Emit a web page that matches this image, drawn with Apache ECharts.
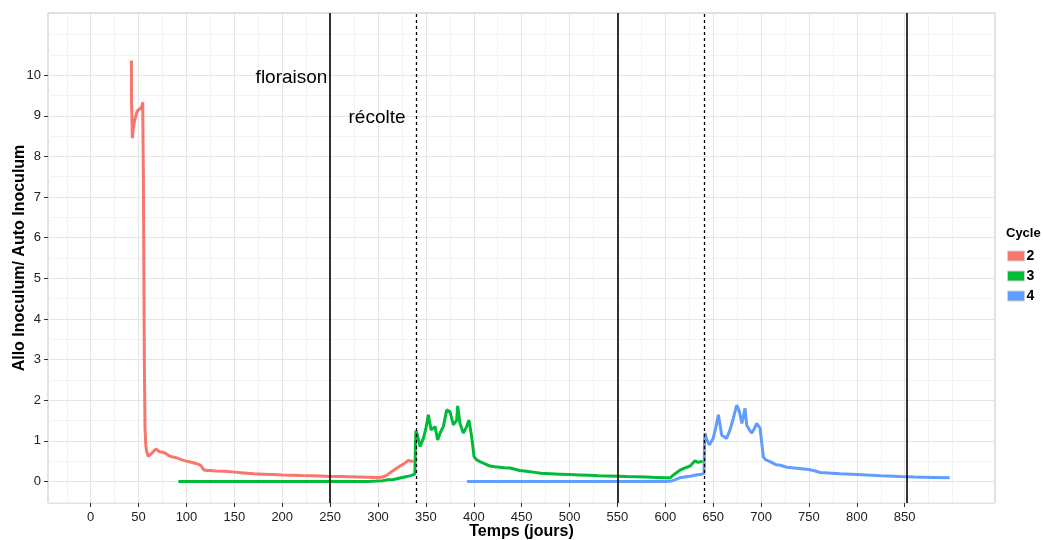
<!DOCTYPE html>
<html>
<head>
<meta charset="utf-8">
<script src="https://cdn.jsdelivr.net/npm/echarts@6/dist/echarts.min.js"></script>
<style>html,body{margin:0;padding:0;background:#fff}#c{width:1043px;height:540px}</style>
</head>
<body>
<div id="c"></div>
<script>
// ---- tick labels / grid breaks ----
var xTicks = [0,50,100,150,200,250,300,350,400,450,500,550,600,650,700,750,800,850];
var xMinor = [-25,25,75,125,175,225,275,325,375,425,475,525,575,625,675,725,775,825,875,900];
var yTicks = [0,1,2,3,4,5,6,7,8,9,10];
var yMinor = [-0.5,0.5,1.5,2.5,3.5,4.5,5.5,6.5,7.5,8.5,9.5,10.5,11];

// ---- reference lines ----
var solidLines = [250, 550, 852];
var dashedLines = [340, 641];

// ---- annotations ----
var annotations = [
  {name: 'floraison', x: 209.7, y: 9.93},
  {name: 'récolte', x: 299, y: 8.96}
];

// ---- series ----
var cycleNames = ['2', '3', '4'];
var cycle2 = [[42.5,10.36],[42.6,9.4],[43.5,8.45],[44.5,8.7],[46,8.9],[48.3,9.1],[50,9.15],[51.5,9.12],[53,9.2],[54.3,9.33],[55.0,7.5],[55.3,6.19],[56,2.99],[56.7,1.32],[57.5,0.9],[58.5,0.73],[60,0.62],[62,0.61],[64,0.70],[66,0.75],[68,0.80],[70,0.76],[72,0.73],[75,0.72],[77.6,0.70],[80,0.66],[83,0.62],[86,0.60],[90,0.58],[93,0.55],[97,0.52],[100,0.50],[104,0.48],[109,0.45],[114,0.41],[116,0.36],[118,0.29],[121,0.27],[125,0.27],[130,0.26],[140,0.25],[150,0.23],[160,0.21],[170,0.19],[180,0.18],[190,0.17],[200,0.16],[210,0.155],[220,0.145],[230,0.14],[240,0.135],[250,0.125],[260,0.12],[270,0.115],[280,0.11],[290,0.105],[300,0.10],[305,0.11],[309,0.15],[313,0.22],[318,0.30],[323,0.38],[328,0.45],[331.6,0.52],[334,0.50],[336,0.49],[337,0.50]];
var cycle3 = [[91.5,0],[150,0],[200,0],[250,0],[290,0],[298,0.01],[305,0.02],[310,0.04],[316,0.05],[322,0.08],[330,0.12],[335,0.15],[338.5,0.18],[339.2,1.0],[339.7,1.25],[341,1.15],[344,0.86],[347.4,1.06],[350,1.3],[352.6,1.64],[355.4,1.27],[359.6,1.35],[362.3,1.02],[365,1.2],[368.2,1.35],[371.7,1.76],[375.2,1.72],[378.7,1.39],[382.2,1.51],[383.2,1.86],[385.6,1.43],[389,1.19],[392.6,1.35],[395,1.51],[397.8,1.10],[400.3,0.61],[403,0.53],[406.5,0.49],[412,0.43],[417,0.38],[422,0.36],[427,0.35],[432,0.34],[438,0.33],[443,0.30],[448,0.27],[455,0.25],[462,0.23],[470,0.20],[480,0.19],[490,0.18],[500,0.17],[510,0.16],[520,0.15],[530,0.14],[540,0.135],[550,0.13],[560,0.12],[570,0.115],[580,0.11],[590,0.10],[600,0.09],[605,0.09],[608,0.15],[612,0.22],[615.4,0.28],[620,0.33],[626,0.38],[631,0.51],[634,0.47],[638,0.49],[639,0.50]];
var cycle4 = [[393,0],[450,0],[500,0],[550,0],[600,0],[606,0.01],[610,0.04],[615,0.09],[620,0.11],[626,0.13],[632,0.16],[638,0.18],[640.5,0.2],[641,1.0],[641.5,1.19],[643,1.05],[646,0.9],[650,1.06],[653,1.35],[655.4,1.64],[659,1.14],[661,1.1],[664,1.06],[667.6,1.27],[671,1.55],[674.6,1.88],[677.4,1.72],[680,1.43],[683.3,1.80],[685,1.39],[687,1.3],[690.3,1.19],[693,1.3],[695.5,1.43],[699,1.31],[702.4,0.6],[705,0.53],[709.4,0.49],[716,0.41],[720,0.40],[727,0.35],[735,0.33],[740,0.32],[747.7,0.30],[755,0.27],[761.6,0.22],[770,0.21],[782.5,0.19],[795,0.18],[810,0.16],[825,0.14],[845,0.12],[860,0.11],[880,0.10],[897,0.09]];

var colors = ['#F8766D', '#00BA38', '#619CFF'];
var FONT = '"Liberation Sans", Arial, sans-serif';

function vLines(arr, style) {
  return arr.map(function (v) { return {xAxis: v, lineStyle: style}; });
}
function hLines(arr, style) {
  return arr.map(function (v) { return {yAxis: v, lineStyle: style}; });
}
var minorStyle = {color: '#f3f3f3', width: 1, type: 'solid'};
var majorStyle = {color: '#e5e5e5', width: 1, type: 'solid'};

var gridData = [].concat(
  vLines(xMinor, minorStyle), hLines(yMinor, minorStyle),
  vLines(xTicks, majorStyle), hLines(yTicks, majorStyle)
);
var refData = [].concat(
  vLines(solidLines, {color: '#000', width: 1.6, type: 'solid'}),
  vLines(dashedLines, {color: '#000', width: 1.3, type: [3, 3]})
);

var chart = echarts.init(document.getElementById('c'), null, {renderer: 'canvas'});
var series = [
  {
    type: 'line', name: '__grid', data: [], silent: true, z: 0,
    markLine: {silent: true, symbol: 'none', label: {show: false}, animation: false, data: gridData, z: 0}
  }
];
[cycle2, cycle3, cycle4].forEach(function (d, i) {
  series.push({
    type: 'line', name: cycleNames[i], data: d, showSymbol: false, symbol: 'none',
    lineStyle: {color: colors[i], width: 3}, itemStyle: {color: colors[i]}, z: 3, animation: false
  });
});
series.push({
  type: 'line', name: '__ref', data: [], silent: true, z: 4,
  markLine: {silent: true, symbol: 'none', label: {show: false}, animation: false, data: refData, z: 4}
});
series.push({
  type: 'scatter', name: '__text', symbolSize: 0, silent: true, z: 5, animation: false,
  itemStyle: {opacity: 1},
  data: annotations.map(function (a) { return {name: a.name, value: [a.x, a.y]}; }),
  label: {show: true, position: 'inside', formatter: '{b}', color: '#000', opacity: 1, textBorderWidth: 0,
          fontSize: 19, fontFamily: FONT}
});

chart.setOption({
  animation: false,
  backgroundColor: '#fff',
  grid: {left: 48, right: 48, top: 13, bottom: 37, outerBoundsMode: 'none', containLabel: false,
         show: true, borderColor: '#c4c4c4', borderWidth: 1, backgroundColor: '#fff'},
  xAxis: {
    type: 'value', min: -44.6, max: 944.3,
    name: 'Temps (jours)', nameLocation: 'middle', nameGap: 21, nameMoveOverlap: false,
    nameTextStyle: {fontFamily: FONT, fontSize: 16, fontWeight: 'bold', color: '#000'},
    axisLine: {show: false, onZero: false},
    axisTick: {show: true, length: 4, inside: false, customValues: xTicks, lineStyle: {color: '#333'}},
    axisLabel: {customValues: xTicks, margin: 8, fontFamily: FONT, fontSize: 13, color: '#222'},
    splitLine: {show: false}
  },
  yAxis: {
    type: 'value', min: -0.53, max: 11.53,
    name: 'Allo Inoculum/ Auto Inoculum', nameLocation: 'middle', nameGap: 20, nameMoveOverlap: false,
    nameTextStyle: {fontFamily: FONT, fontSize: 16, fontWeight: 'bold', color: '#000'},
    axisLine: {show: false, onZero: false},
    axisTick: {show: true, length: 4, inside: false, customValues: yTicks, lineStyle: {color: '#333'}},
    axisLabel: {customValues: yTicks, margin: 7, fontFamily: FONT, fontSize: 13, color: '#222'},
    splitLine: {show: false}
  },
  legend: {
    data: cycleNames, orient: 'vertical', left: 1002, top: 244,
    icon: 'rect', itemWidth: 17, itemHeight: 10, itemGap: 6,
    itemStyle: {borderColor: '#d0d0d0', borderWidth: 1},
    textStyle: {fontFamily: FONT, fontSize: 14, fontWeight: 'bold', color: '#000', padding: [0, 0, 0, -3]},
    selectedMode: false
  },
  graphic: [{
    type: 'text', left: 1006, top: 227,
    style: {text: 'Cycle', font: 'bold 13px ' + FONT, fill: '#000'}
  }],
  series: series
});
</script>
</body>
</html>
